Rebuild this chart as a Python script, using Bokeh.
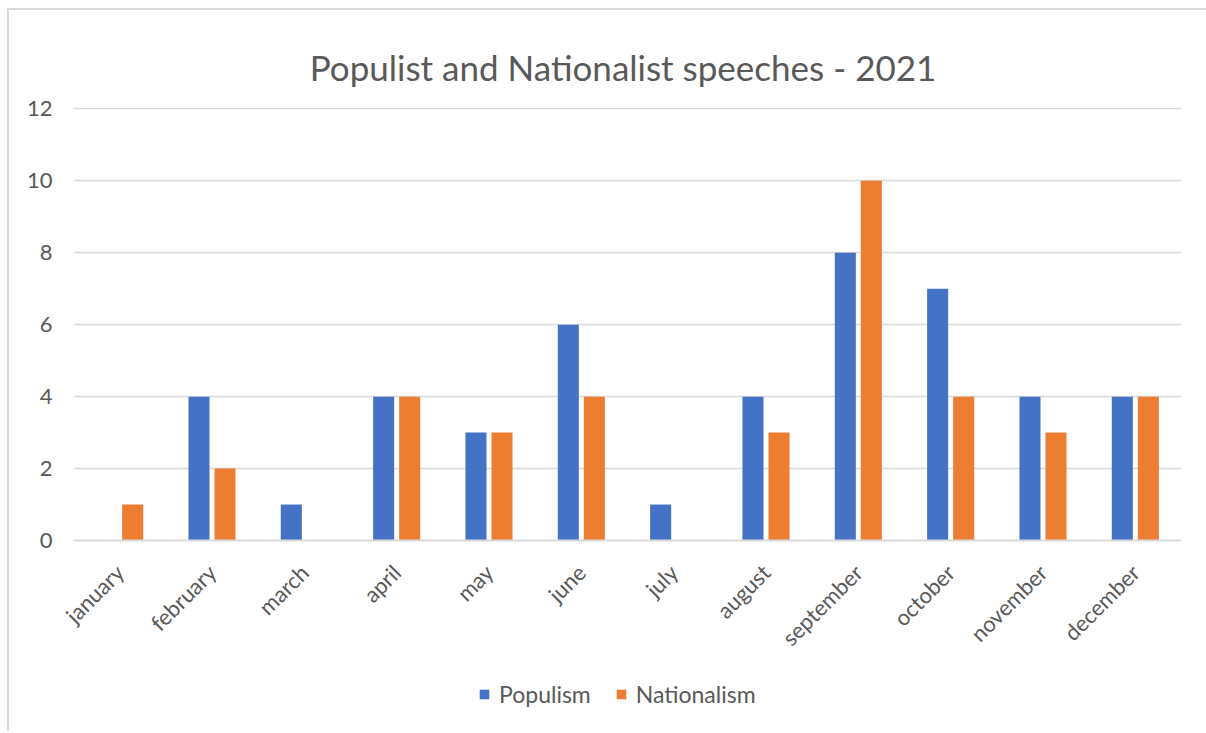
from math import pi
from bokeh.plotting import figure
from bokeh.layouts import column
from bokeh.models import (FactorRange, Range1d, FixedTicker, Legend, LegendItem,
                          ColumnDataSource, Label)
from bokeh.transform import dodge
from bokeh.embed import file_html
from bokeh.resources import INLINE

months = ["january", "february", "march", "april", "may", "june", "july",
          "august", "september", "october", "november", "december"]
populism = [0, 4, 1, 4, 3, 6, 1, 4, 8, 7, 4, 4]
nationalism = [1, 2, 0, 4, 3, 4, 0, 3, 10, 4, 3, 4]
series_names = ["Populism", "Nationalism"]
y_ticks = [0, 2, 4, 6, 8, 10, 12]
title_text = "Populist and Nationalist speeches  - 2021"

BLUE = "#4472C4"
ORANGE = "#ED7D31"
GRID = "#D9D9D9"
TXT = "#595959"
FONT = "Lato"
BORDER = "2px solid #D9D9D9"

src = ColumnDataSource(dict(month=months, populism=populism, nationalism=nationalism))
x_range = FactorRange(*months, range_padding=0)


def strip(height, top_border=False):
    f = figure(width=1199, height=height, output_backend="svg", toolbar_location=None,
               x_range=Range1d(0, 1), y_range=Range1d(0, 1),
               x_axis_type=None, y_axis_type=None,
               min_border_left=0, min_border_right=0, min_border_top=0, min_border_bottom=0)
    f.margin = (8 if top_border else 0, 0, 0, 7)
    st = {"border-left": BORDER}
    if top_border:
        st["border-top"] = BORDER
    f.styles = st
    f.outline_line_color = None
    f.xgrid.grid_line_color = None
    f.ygrid.grid_line_color = None
    f.background_fill_color = "white"
    f.border_fill_color = "white"
    return f


# ---- title strip ------------------------------------------------------------
head = strip(79, top_border=True)
head.add_layout(Label(x=0.5, y=0.29, text=title_text, text_font=FONT,
                      text_font_size="35px", text_color=TXT,
                      text_align="center", text_baseline="alphabetic"))

# ---- main chart -------------------------------------------------------------
p = figure(width=1199, height=576, output_backend="svg", toolbar_location=None,
           x_range=x_range,
           y_range=Range1d(0, 12.04), min_border_left=64, min_border_right=27,
           min_border_top=20, min_border_bottom=118)
p.margin = (0, 0, 0, 7)
p.styles = {"border-left": BORDER}
p.outline_line_color = None
p.background_fill_color = "white"
p.border_fill_color = "white"

p.vbar(x=dodge("month", -0.141, range=x_range), top="populism", width=0.228,
       source=src, fill_color=BLUE, line_color=None)
p.vbar(x=dodge("month", 0.141, range=x_range), top="nationalism", width=0.228,
       source=src, fill_color=ORANGE, line_color=None)

p.xgrid.grid_line_color = None
p.ygrid.grid_line_color = GRID
p.ygrid.grid_line_width = 1.5
p.yaxis.ticker = FixedTicker(ticks=y_ticks)
p.yaxis.axis_line_color = None
p.yaxis.major_tick_line_color = None
p.yaxis.minor_tick_line_color = None
p.yaxis.major_label_standoff = 15
p.yaxis.major_label_text_font = FONT
p.yaxis.major_label_text_font_size = "22px"
p.yaxis.major_label_text_color = TXT

p.xaxis.axis_line_color = GRID
p.xaxis.axis_line_width = 2
p.xaxis.major_tick_line_color = None
p.xaxis.minor_tick_line_color = None
p.xaxis.major_label_orientation = pi / 4
p.xaxis.major_label_standoff = 22
p.xaxis.major_label_text_font = FONT
p.xaxis.major_label_text_font_size = "22px"
p.xaxis.major_label_text_color = TXT

# ---- legend strip (separate figure so that the legend is not clipped) -------
# the same bars are drawn here, far outside this strip's visible y range,
# so only the legend of this strip shows
leg = figure(width=1199, height=68, output_backend="svg", toolbar_location=None,
             x_range=x_range, y_range=Range1d(100, 101),
             x_axis_type=None, y_axis_type=None,
             min_border_left=0, min_border_right=0, min_border_top=0, min_border_bottom=0)
leg.margin = (0, 0, 0, 7)
leg.styles = {"border-left": BORDER}
leg.outline_line_color = None
leg.xgrid.grid_line_color = None
leg.ygrid.grid_line_color = None
leg.background_fill_color = "white"
leg.border_fill_color = "white"

r_p = leg.vbar(x=dodge("month", -0.141, range=x_range), top="populism", width=0.228,
               source=src, fill_color=BLUE, line_color=None)
r_n = leg.vbar(x=dodge("month", 0.141, range=x_range), top="nationalism", width=0.228,
               source=src, fill_color=ORANGE, line_color=None)

legend = Legend(items=[LegendItem(label=series_names[0], renderers=[r_p]),
                       LegendItem(label=series_names[1], renderers=[r_n])],
                orientation="horizontal", location=(405, 23))
legend.label_text_font = FONT
legend.label_text_font_size = "23px"
legend.label_text_color = TXT
legend.glyph_width = 12
legend.glyph_height = 12
legend.label_standoff = 9
legend.spacing = 24
legend.border_line_color = None
legend.background_fill_alpha = 0
legend.padding = 2
legend.margin = 0
leg.add_layout(legend)

layout = column(head, p, leg, spacing=0)
open("out.html", "w").write(file_html(layout, INLINE))
